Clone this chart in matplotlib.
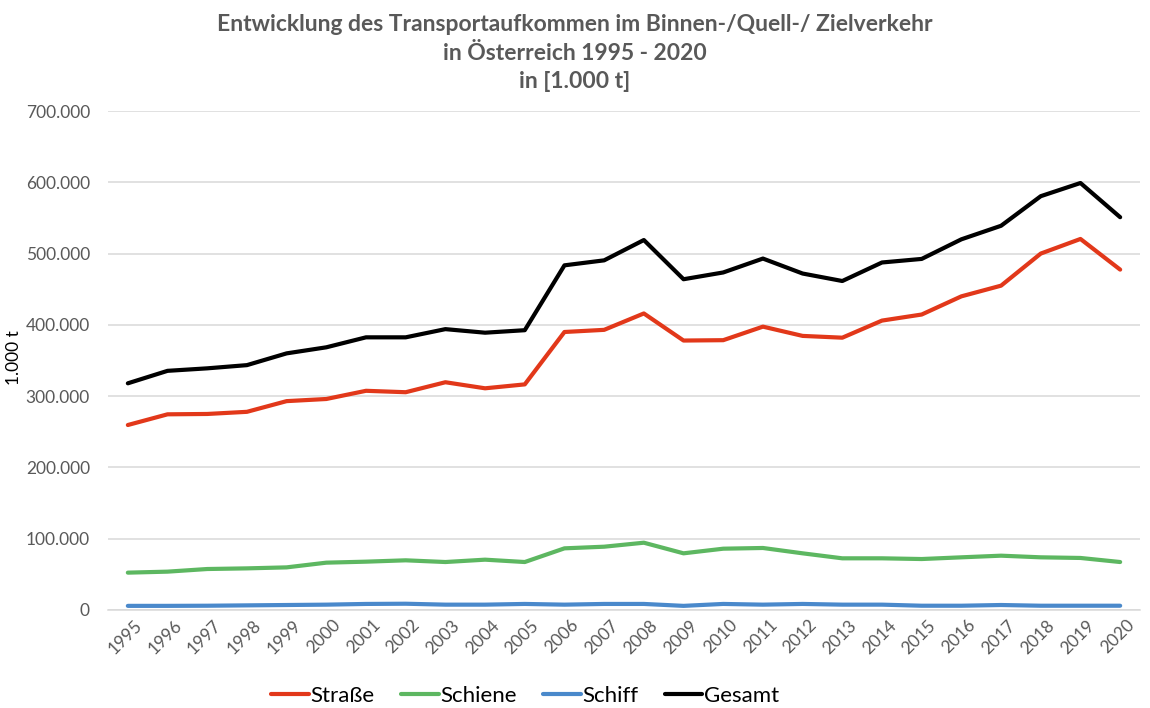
import matplotlib
matplotlib.use("Agg")
import matplotlib.pyplot as plt
from matplotlib.ticker import FuncFormatter

years = list(range(1995, 2021))
strasse = [259.5, 274.5, 275, 278, 293, 296, 307.5, 305.5, 319.5, 311, 316.5, 390, 393,
           416, 378, 378.5, 397.5, 384.5, 382, 406, 414.5, 440, 455, 500, 520.5, 477.5]
schiene = [52.4, 53.8, 57.5, 58.4, 59.8, 66.4, 67.8, 69.7, 67.3, 70.6, 67.3, 86.5, 88.8,
           94.4, 79.5, 86, 87, 79.5, 72.5, 72.5, 71.5, 73.9, 76.2, 73.9, 73, 67.3]
schiff = [5.8, 5.8, 6, 6.5, 7, 7.5, 8.5, 8.8, 7.5, 7.5, 8.5, 7.5, 8.5,
          8.5, 5.8, 8.5, 7.5, 8.5, 7.5, 7.5, 6, 6, 7, 6, 6, 6]
gesamt = [318, 335.5, 339, 343.5, 360, 368.5, 382.5, 382.5, 394, 389, 392.5, 483.5, 490.5,
          519, 464, 473.5, 493, 472, 461.5, 487.5, 492.5, 520, 539, 580.5, 599, 551]
yticks = [0, 100, 200, 300, 400, 500, 600, 700]
title = "Entwicklung des Transportaufkommen im Binnen-/Quell-/ Zielverkehr\nin Österreich 1995 - 2020\nin [1.000 t]"

plt.rcParams['font.family'] = ['Lato', 'DejaVu Sans']
gray = '#595959'

fig = plt.figure(figsize=(11.5, 7.08), dpi=100)
ax = fig.add_axes([108/1150, 1 - 610/708, (1140-108)/1150, (610-111)/708])

x = list(range(len(years)))
lw = 3.0
ax.plot(x, strasse, color='#E2381A', lw=lw, label='Straße', solid_capstyle='round')
ax.plot(x, schiene, color='#5DB761', lw=lw, label='Schiene', solid_capstyle='round')
ax.plot(x, schiff, color='#4A89CB', lw=lw, label='Schiff', solid_capstyle='round')
ax.plot(x, gesamt, color='#000000', lw=lw, label='Gesamt', solid_capstyle='round')

ax.set_xlim(-0.5, len(years) - 0.5)
ax.set_ylim(0, 700)
ax.set_yticks(yticks)
ax.yaxis.set_major_formatter(FuncFormatter(lambda v, p: '0' if v == 0 else f"{int(v)}.000"))
ax.set_xticks(x)
ax.set_xticklabels([str(y) for y in years], rotation=45, ha='right', va='top',
                   rotation_mode='anchor')
ax.tick_params(axis='both', length=0, labelsize=12.5, labelcolor=gray)
ax.tick_params(axis='y', pad=13)
ax.tick_params(axis='x', pad=5)
for lab in ax.get_xticklabels():
    lab.set_transform(lab.get_transform() + matplotlib.transforms.ScaledTranslation(6/100, 0, fig.dpi_scale_trans))
ax.grid(axis='y', color='#D9D9D9', lw=1.1)
ax.set_axisbelow(True)
for s in ['top', 'right', 'left']:
    ax.spines[s].set_visible(False)
ax.spines['bottom'].set_color('#D9D9D9')
ax.spines['bottom'].set_linewidth(1.1)

ax.set_ylabel('1.000 t', fontsize=12.5, color='#000000')
ax.yaxis.set_label_coords(-86/1032, 0.505)

fig.text(0.5, 1 - 53/708, title, ha='center', va='center', fontsize=16.5,
         fontweight='bold', color=gray, linespacing=1.42)

leg = fig.legend(loc='center', bbox_to_anchor=(525/1150, 1 - 696/708), ncol=4,
                 frameon=False, fontsize=16, handlelength=1.7, handletextpad=0.05,
                 columnspacing=1.2)
for t in leg.get_texts():
    t.set_color('#000000')

fig.savefig('out.png', dpi=100)
